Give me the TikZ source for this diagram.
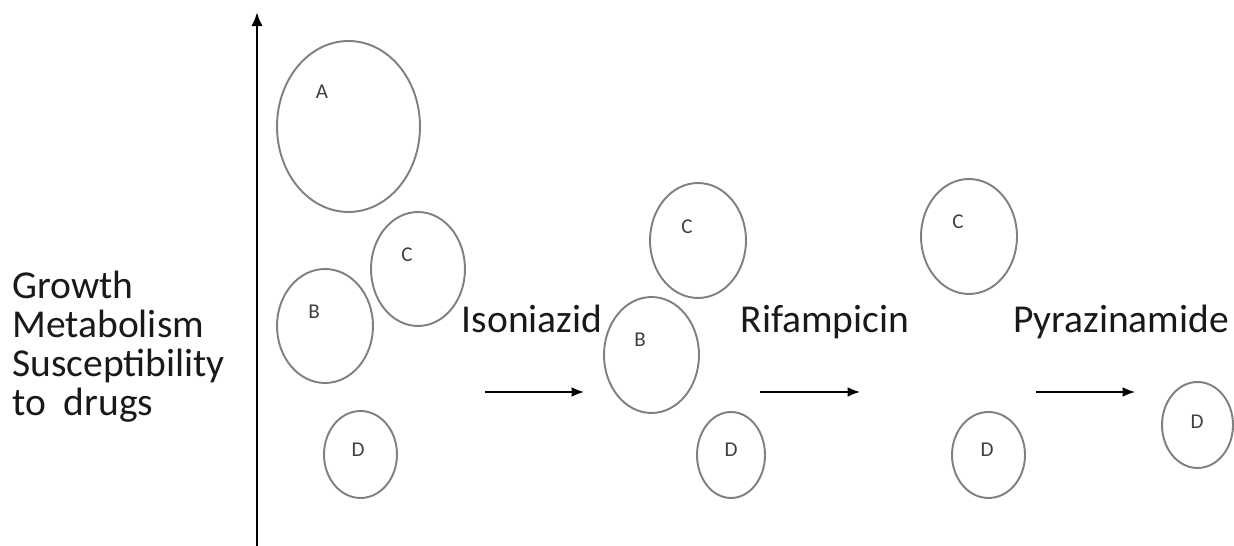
\documentclass[tikz,border=0pt]{standalone}
\usepackage{fontspec}
\setmainfont{Carlito}
\usetikzlibrary{shapes.geometric,arrows.meta}
\tikzset{
  cell/.style={ellipse,draw=gray,line width=1.1pt,inner sep=0pt},
  cellname/.style={font=\fontsize{12}{12}\selectfont,text=black!75},
  drugname/.style={font=\fontsize{22.5}{22.5}\selectfont,text=black!90,anchor=base},
  drugarrow/.style={line width=0.9pt,-{Latex[length=7pt,width=5.5pt]}}
}
\begin{document}
\begin{tikzpicture}[x=0.02cm,y=-0.02cm]
\useasboundingbox (0,0) rectangle (1234,546);
%\draw[step=100,very thin,color=gray] (0,0) grid (1234,546);
% axis
\coordinate (axisbot) at (257,546);
\coordinate (axistop) at (257,12);
\draw[line width=1.6pt,-{Latex[length=8pt,width=6.5pt]}] (axisbot) -- (axistop);
\node[anchor=base west,align=left,inner sep=0pt,text=black!90,font=\fontsize{22.5}{22.3}\selectfont] (props) at (12,416)
  {Growth\\Metabolism\\Susceptibility\\to\ \ drugs};
% before treatment
\node[cell,minimum width=2.86cm,minimum height=3.42cm] (A1) at (348.5,126.5) {};
\node[cell,minimum width=1.88cm,minimum height=2.28cm] (C1) at (418,269) {};
\node[cell,minimum width=1.92cm,minimum height=2.28cm] (B1) at (325,326) {};
\node[cell,minimum width=1.46cm,minimum height=1.74cm] (D1) at (360.5,454.5) {};
\node[cellname] (a1) at (322,92) {A};
\node[cellname] (c1) at (407,255) {C};
\node[cellname] (b1) at (314,312) {B};
\node[cellname] (d1) at (358,450) {D};
% isoniazid
\node[drugname] (inh) at (532,333) {Isoniazid};
\coordinate (inh1) at (485,392);
\coordinate (inh2) at (584,392);
\draw[drugarrow] (inh1) -- (inh2);
\node[cell,minimum width=1.92cm,minimum height=2.30cm] (C2) at (698,240.5) {};
\node[cell,minimum width=1.90cm,minimum height=2.32cm] (B2) at (651.5,355) {};
\node[cell,minimum width=1.36cm,minimum height=1.72cm] (D2) at (731,455) {};
\node[cellname] (c2) at (687,227) {C};
\node[cellname] (b2) at (640,340) {B};
\node[cellname] (d2) at (731,450) {D};
% rifampicin
\node[drugname] (rif) at (825,333) {Rifampicin};
\coordinate (rif1) at (760,392);
\coordinate (rif2) at (860,392);
\draw[drugarrow] (rif1) -- (rif2);
\node[cell,minimum width=1.92cm,minimum height=2.30cm] (C3) at (969,236.5) {};
\node[cell,minimum width=1.46cm,minimum height=1.72cm] (D3) at (988.5,455) {};
\node[cellname] (c3) at (958,222) {C};
\node[cellname] (d3) at (987,450) {D};
% pyrazinamide
\node[drugname] (pza) at (1121,333) {Pyrazinamide};
\coordinate (pza1) at (1036,392);
\coordinate (pza2) at (1135,392);
\draw[drugarrow] (pza1) -- (pza2);
\node[cell,minimum width=1.42cm,minimum height=1.72cm] (D4) at (1197.5,425) {};
\node[cellname] (d4) at (1197,422) {D};
\end{tikzpicture}
\end{document}
